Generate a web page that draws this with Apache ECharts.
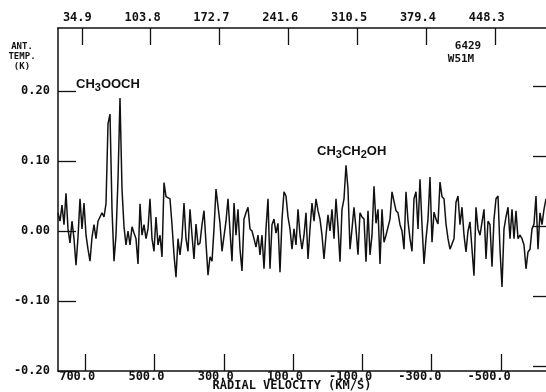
<!DOCTYPE html>
<html>
<head>
<meta charset="utf-8">
<title>W51M spectrum</title>
<script src="https://cdn.jsdelivr.net/npm/echarts@6.0.0/dist/echarts.min.js"></script>
<style>
  html, body { margin: 0; padding: 0; background: #fff; }
  #spectrumChart { width: 546px; height: 392px; }
</style>
</head>
<body>
<div id="spectrumChart"></div>
<script>
// tick values of the three scales
var velocityTicks = [700, 500, 300, 100, -100, -300, -500];
var topTicks = [34.9, 103.8, 172.7, 241.6, 310.5, 379.4, 448.3];
var tempTicks = [-0.2, -0.1, 0, 0.1, 0.2];

// antenna temperature (K), channels left to right
var antTemp = [
	0.026, 0.014, 0.037, 0.009, 0.054, 0.003, -0.017, 0.014, -0.011, -0.049,
	-0.009, 0.046, 0.003, 0.040, -0.006, -0.026, -0.043, -0.009, 0.009, -0.011,
	0.014, 0.020, 0.026, 0.020, 0.039, 0.153, 0.167, 0.031, -0.043, -0.006,
	0.074, 0.190, 0.060, 0.006, -0.020, 0.000, -0.020, 0.006, -0.003, -0.011,
	-0.047, 0.039, -0.006, 0.009, -0.011, 0.003, 0.046, -0.011, -0.029, 0.020,
	-0.020, -0.006, -0.037, 0.069, 0.049, 0.051, 0.046, 0.009, -0.034, -0.066,
	-0.011, -0.034, -0.009, 0.040, -0.011, -0.029, 0.031, -0.006, -0.040, 0.010,
	-0.020, -0.017, 0.009, 0.029, 0.029, -0.063, -0.037, -0.043, 0.003, 0.060,
	0.060, 0.011, -0.029, -0.029, 0.014, 0.046, 0.000, -0.043, 0.040, -0.006,
	0.031, -0.026, -0.057, 0.017, 0.026, 0.034, 0.003, 0.000, -0.011, -0.023,
	-0.006, -0.034, -0.006, -0.054, 0.003, 0.046, -0.054, 0.009, 0.017, -0.003,
	0.011, -0.059, 0.017, 0.056, 0.050, 0.020, 0.003, -0.026, 0.003, -0.020,
	0.031, -0.006, -0.026, -0.006, 0.026, -0.040, 0.003, 0.040, 0.014, 0.046,
	0.029, 0.017, -0.006, -0.040, -0.006, 0.023, 0.000, 0.031, -0.011, 0.046,
	0.006, -0.044, 0.031, 0.046, 0.094, 0.060, -0.026, 0.003, 0.034, 0.003,
	-0.034, 0.026, 0.020, 0.017, -0.044, 0.029, -0.034, -0.006, 0.064, 0.011,
	0.031, -0.047, 0.031, -0.016, -0.006, -0.006, 0.017, 0.056, 0.057, 0.029,
	0.026, 0.009, 0.000, -0.026, 0.056, 0.014, -0.011, -0.029, 0.046, 0.056,
	0.003, 0.074, 0.009, -0.047, -0.011, 0.017, 0.077, -0.016, 0.027, 0.017,
	0.010, 0.070, 0.049, 0.046, 0.010, -0.011, -0.026, -0.026, -0.011, 0.041,
	0.050, 0.009, 0.034, -0.006, -0.030, 0.000, 0.013, -0.026, -0.064, 0.034,
	0.003, -0.006, -0.006, 0.031, -0.040, 0.014, 0.009, -0.051, 0.017, 0.046,
	0.050, -0.026, -0.080, 0.003, 0.020, 0.034, -0.011, 0.031, -0.011, 0.029,
	-0.011, -0.006, -0.011, -0.020, -0.054, -0.030, -0.026, 0.003, 0.010, 0.050,
	-0.026, 0.026, 0.009, 0.031, 0.046
];

var chartDom = document.getElementById('spectrumChart');
var mySpectrumChart = echarts.init(chartDom);
var plotFont = 'DejaVu Sans Mono';
var ink = '#111';
var option;

var tickLabel = {
	color: ink,
	fontFamily: plotFont,
	fontWeight: 'bold',
	fontSize: 12
};

option = {
	animation: false,
	backgroundColor: '#fff',
	grid: [
		{ left: 58, right: 0, top: 28, bottom: 21, outerBoundsMode: 'none' },
		// the right hand ticks sit a little higher on the scan
		{ left: 58, right: 0, top: 23, bottom: 26, outerBoundsMode: 'none' }
	],
	xAxis: [
		{
			type: 'category',
			gridIndex: 0,
			position: 'bottom',
			show: false,
			boundaryGap: false
		},
		{
			type: 'value',
			gridIndex: 0,
			position: 'bottom',
			inverse: true,
			min: -630.5,
			max: 778.8,
			name: 'RADIAL VELOCITY (KM/S)',
			nameLocation: 'middle',
			nameGap: 9,
			nameMoveOverlap: false,
			nameTextStyle: {
				color: ink,
				fontFamily: plotFont,
				fontWeight: 'bold',
				fontSize: 12,
				padding: [0, 20, 0, 0]
			},
			axisLine: { onZero: false, lineStyle: { color: ink, width: 1.5 } },
			axisTick: {
				inside: true,
				length: 17,
				customValues: velocityTicks,
				lineStyle: { color: ink, width: 1.3 }
			},
			axisLabel: Object.assign({}, tickLabel, {
				customValues: velocityTicks,
				margin: 0,
				align: 'right',
				padding: [0, -10, 0, 0],
				formatter: function (v) { return v.toFixed(1); }
			}),
			splitLine: { show: false }
		},
		{
			type: 'value',
			gridIndex: 0,
			position: 'top',
			min: 11.1,
			max: 499.5,
			axisLine: { onZero: false, lineStyle: { color: ink, width: 1.5 } },
			axisTick: {
				inside: true,
				length: 17,
				customValues: topTicks,
				lineStyle: { color: ink, width: 1.3 }
			},
			axisLabel: Object.assign({}, tickLabel, {
				customValues: topTicks,
				margin: 4,
				align: 'right',
				padding: [0, -10, 0, 0],
				formatter: function (v) { return v.toFixed(1); }
			}),
			splitLine: { show: false }
		},
		{
			type: 'value',
			gridIndex: 1,
			show: false
		}
	],
	yAxis: [
		{
			type: 'value',
			gridIndex: 0,
			position: 'left',
			min: -0.2,
			max: 0.29,
			axisLine: { show: true, onZero: false, lineStyle: { color: ink, width: 1.5 } },
			axisTick: {
				show: true,
				inside: true,
				length: 18,
				customValues: tempTicks,
				lineStyle: { color: ink, width: 1.3 }
			},
			axisLabel: Object.assign({}, tickLabel, {
				customValues: tempTicks,
				margin: 8,
				formatter: function (v) { return v.toFixed(2); }
			}),
			splitLine: { show: false }
		},
		{
			type: 'value',
			gridIndex: 1,
			position: 'right',
			min: -0.2,
			max: 0.29,
			axisLine: { show: false, onZero: false },
			axisTick: {
				show: true,
				inside: true,
				length: 13,
				customValues: tempTicks,
				lineStyle: { color: ink, width: 1.3 }
			},
			axisLabel: { show: false },
			splitLine: { show: false }
		}
	],
	graphic: [
		{
			type: 'text',
			x: 22,
			y: 57,
			style: {
				text: 'ANT.\nTEMP.\n(K)',
				fill: ink,
				font: 'bold 9px ' + plotFont,
				lineHeight: 10,
				align: 'center',
				verticalAlign: 'middle'
			}
		},
		{
			type: 'text',
			x: 468,
			y: 46,
			style: { text: '6429', fill: ink, font: 'bold 11px ' + plotFont, align: 'center', verticalAlign: 'middle' }
		},
		{
			type: 'text',
			x: 461,
			y: 59,
			style: { text: 'W51M', fill: ink, font: 'bold 11px ' + plotFont, align: 'center', verticalAlign: 'middle' }
		},
		{
			type: 'text',
			x: 76,
			y: 75,
			style: {
				text: '{m|CH}{s|3}{m|OOCH}',
				rich: {
					m: { fontFamily: 'Liberation Sans', fontWeight: 'bold', fontSize: 13, lineHeight: 18, verticalAlign: 'middle', fill: ink },
					s: { fontFamily: 'Liberation Sans', fontWeight: 'bold', fontSize: 11, lineHeight: 6, verticalAlign: 'bottom', fill: ink }
				}
			}
		},
		{
			type: 'text',
			x: 317,
			y: 142,
			style: {
				text: '{m|CH}{s|3}{m|CH}{s|2}{m|OH}',
				rich: {
					m: { fontFamily: 'Liberation Sans', fontWeight: 'bold', fontSize: 13, lineHeight: 18, verticalAlign: 'middle', fill: ink },
					s: { fontFamily: 'Liberation Sans', fontWeight: 'bold', fontSize: 11, lineHeight: 6, verticalAlign: 'bottom', fill: ink }
				}
			}
		}
	],
	series: [
		{
			name: 'W51M',
			type: 'line',
			xAxisIndex: 0,
			yAxisIndex: 0,
			data: antTemp,
			symbol: 'none',
			silent: true,
			lineStyle: { color: ink, width: 1.5 }
		}
	]
};

mySpectrumChart.setOption(option);
</script>
</body>
</html>
